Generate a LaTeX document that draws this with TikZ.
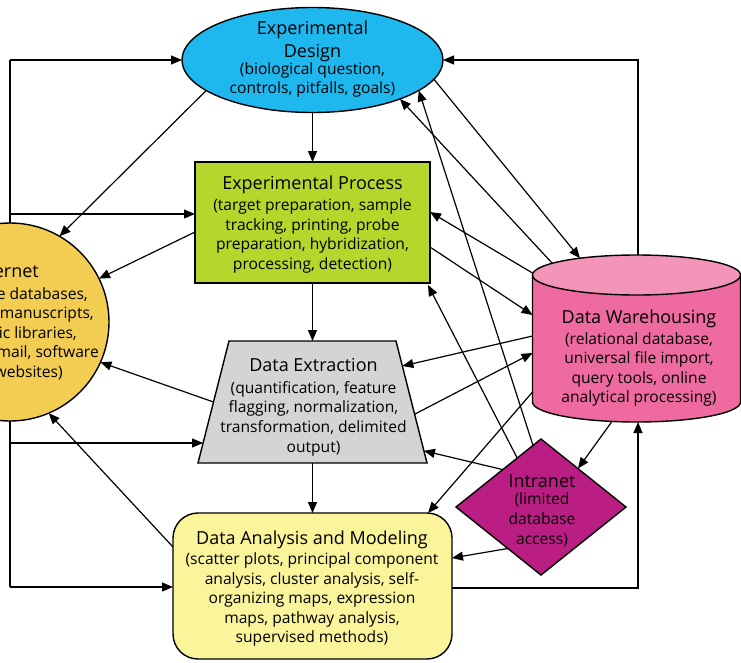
\documentclass[tikz,border=0pt]{standalone}
\usepackage{fontspec}
\setmainfont{Open Sans}
\usetikzlibrary{arrows.meta,calc,shapes.geometric}
\definecolor{cDesign}{RGB}{30,183,238}
\definecolor{cProc}{RGB}{181,214,42}
\definecolor{cExtr}{RGB}{212,212,212}
\definecolor{cAnal}{RGB}{250,244,155}
\definecolor{cWare}{RGB}{238,106,160}
\definecolor{cWareTop}{RGB}{242,149,184}
\definecolor{cIntra}{RGB}{187,30,131}
\definecolor{cInet}{RGB}{242,205,82}
\newcommand\mytitle{\fontsize{18}{22}\selectfont}
\newcommand\mysub{\fontsize{15.6}{19.6}\selectfont}
\begin{document}
\begin{tikzpicture}[x=1pt,y=1pt,
  shp/.style={draw=black, line width=1.4pt, inner sep=0pt, outer sep=0pt},
  arr/.style={line width=1.2pt, line join=miter, -{Triangle[length=11pt,width=9pt]}},
  ln/.style={line width=1.2pt},
  txt/.style={align=center, inner sep=0pt, font=\mysub, text=black}]
\useasboundingbox (0,0) rectangle (741,-662);
\begin{scope}
\clip (0,0) rectangle (741,-662);
\fill[white] (0,0) rectangle (741,-662);

% left bus (under the circle)
\coordinate (bustop) at (10,-60);
\coordinate (busb2) at (10,-214);
\coordinate (busbot) at (10,-587);
\draw[ln] (bustop) -- (busbot);

% shapes
\node[shp, ellipse, minimum width=261pt, minimum height=105pt, fill=cDesign] (design) at (312.5,-60) {};
\node[shp, rectangle, minimum width=235pt, minimum height=121pt, fill=cProc] (proc) at (312.5,-222.5) {};
% data extraction trapezium
\node[inner sep=0pt, outer sep=0pt, minimum width=229pt, minimum height=122pt] (extr) at (312.5,-402) {};
\coordinate (xtl) at ($(extr.north west)+(31,0)$);
\coordinate (xtr) at ($(extr.north east)+(-31,0)$);
\coordinate (xbl) at (extr.south west);
\coordinate (xbr) at (extr.south east);
\filldraw[line width=1.4pt, fill=cExtr, line join=miter] (xtl) -- (xtr) -- (xbr) -- (xbl) -- cycle;
\node[shp, rectangle, rounded corners=25pt, minimum width=279pt, minimum height=146pt, fill=cAnal] (anal) at (312.5,-586) {};
\node[shp, diamond, minimum width=170pt, minimum height=136pt, fill=cIntra] (intra) at (541,-507) {};
\node[shp, circle, minimum size=198pt, fill=cInet] (inet) at (10,-322) {};
% data warehouse cylinder
\filldraw[line width=1.4pt, fill=cWare] (532.5,-275) -- (532.5,-402)
   arc[start angle=180, end angle=360, x radius=104, y radius=20] -- (740.5,-275) -- cycle;
\filldraw[line width=1.4pt, fill=cWareTop] (636.5,-275) ellipse[x radius=104, y radius=20];
\node[inner sep=0pt, outer sep=0pt, minimum width=208pt, minimum height=167pt] (ware) at (636.5,-338.5) {};

% points on the trapezium sides
\coordinate (xl3) at ($(xtl)!0.836!(xbl)$);
\coordinate (xlm) at ($(xtl)!0.5!(xbl)$);
\coordinate (xr1) at ($(xtr)!0.205!(xbr)$);
\coordinate (xr2) at ($(xtr)!0.6!(xbr)$);
\coordinate (xr3) at ($(xtr)!0.9!(xbr)$);

% vertical flow
\draw[arr] (design.south) -- (proc.north);
\draw[arr] (proc.south) -- (extr.north);
\draw[arr] (extr.south) -- (anal.north);

% left bus arrows
\draw[arr] (bustop) -- (design.west);
\draw[arr] (busb2) -- (busb2 -| proc.west);
\draw[arr] (xl3 -| bustop) -- (xl3);
\draw[arr] (busbot) -- (busbot -| anal.west);

% right loops
\draw[arr] ($(anal.north east)+(0,-75)$) -| ($(ware.south)+(1.5,0)$);
\draw[arr] ($(ware.north)+(1.5,0)$) |- (design.east);

% to internet
\draw[arr] (design.196) -- (inet.60.5);
\draw[arr] ($(proc.north west)+(0,-70)$) -- (inet.26);
\draw[arr] (xlm) -- (inet.336);
\draw[arr] ($(anal.north west)+(0,-34)$) -- (inet.293);

% design <-> warehouse
\draw[arr] (design.351) -- ($(ware.north)+(-56.5,-3.2)$);
\draw[arr] ($(ware.north)+(-84.5,-8)$) -- (design.336);

% intranet to design / process
\draw[arr] ($(intra.north)!0.094!(intra.west)$) -- (design.344);
\draw[arr] ($(intra.north)!0.28!(intra.west)$) -- ($(proc.south east)+(-2,-2)$);

% process <-> warehouse
\draw[arr] ($(ware.north west)+(0,-18)$) -- ($(proc.north east)+(0,-50)$);
\draw[arr] ($(proc.north east)+(0,-85)$) -- ($(ware.north west)+(0,-60)$);

% extraction <-> warehouse
\draw[arr] ($(ware.north west)+(0,-81)$) -- (xr1);
\draw[arr] (xr2) -- ($(ware.north west)+(0,-98)$);

% warehouse -> analysis
\draw[arr] ($(ware.north west)+(0,-137)$) -- ($(anal.north east)+(-24,0)$);

% intranet links
\draw[arr] ($(intra.north)!0.45!(intra.west)$) -- (xr3);
\draw[arr] ($(intra.west)!0.61!(intra.south)$) -- ($(anal.north east)+(0,-45)$);
\draw[arr] ($(ware.south)+(-24.5,0.6)$) -- ($(intra.north)!0.435!(intra.east)$);

% texts
\node[txt] (designT) at (312.5,-59) {{\mytitle Experimental}\\[3.4pt]{\mytitle Design}\\[-2.6pt](biological question,\\controls, pitfalls, goals)};
\node[txt] (procT) at (312.5,-224.5) {{\mytitle Experimental Process}\\[1.4pt](target preparation, sample\\tracking, printing, probe\\preparation, hybridization,\\processing, detection)};
\node[txt] (extrT) at (313.5,-407) {{\mytitle Data Extraction}\\[2.4pt](quantification, feature\\flagging, normalization,\\transformation, delimited\\output)};
\node[txt] (analT) at (312,-589) {{\mytitle Data Analysis and Modeling}\\(scatter plots, principal component\\analysis, cluster analysis, self-\\organizing maps, expression\\maps, pathway analysis,\\supervised methods)};
\node[txt] (wareT) at (639,-358) {{\mytitle Data Warehousing}\\[1.4pt](relational database,\\universal file import,\\query tools, online\\analytical processing)};
\node[txt] (intraT) at (542,-510.8) {{\mytitle Intranet}\\[-2.6pt](limited\\database\\access)};

\node[txt, anchor=base east, font=\mytitle] (inetT) at (39,-277) {Internet};
\node[txt, anchor=base east] (inet1) at (88,-299) {(online databases,};
\node[txt, anchor=base east] (inet2) at (94,-318) {journal manuscripts,};
\node[txt, anchor=base east] (inet3) at (77,-338) {electronic libraries,};
\node[txt, anchor=base east] (inet4) at (99,-357) {e-mail, software};
\node[txt, anchor=base east] (inet5) at (63,-377) {and websites)};
\end{scope}
\end{tikzpicture}
\end{document}
